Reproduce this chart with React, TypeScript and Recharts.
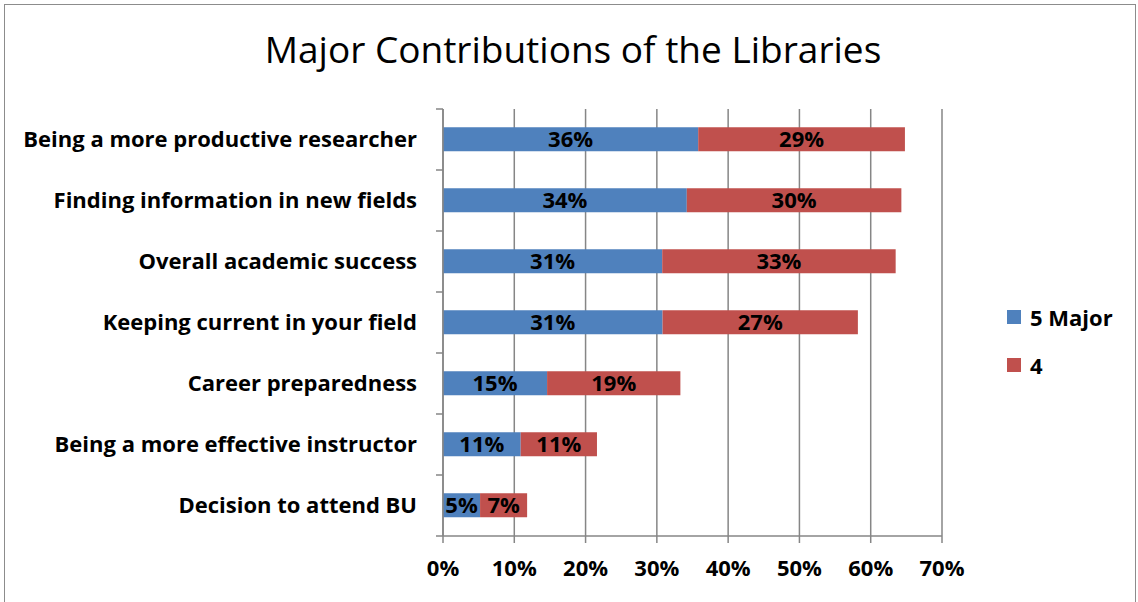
import { BarChart, Bar, XAxis, YAxis, CartesianGrid, LabelList } from 'recharts';

const categories = [
  'Being a more productive researcher',
  'Finding information in new fields',
  'Overall academic success',
  'Keeping current in your field',
  'Career preparedness',
  'Being a more effective instructor',
  'Decision to attend BU',
];
const majorValues = [35.8, 34.2, 30.75, 30.8, 14.6, 10.9, 5.2];
const fourValues = [29.0, 30.1, 32.75, 27.4, 18.7, 10.7, 6.6];
const seriesNames = ['5 Major', '4'];
const seriesColors = ['#4F81BD', '#C0504D'];
const xTicks = [0, 10, 20, 30, 40, 50, 60, 70];

const FONT = '"Open Sans", Calibri, sans-serif';
const GRID = '#868686';
const LABEL_SIZE = 22;

const data = categories.map((name, i) => ({
  name,
  major: majorValues[i],
  four: fourValues[i],
}));

// category label plus a tick mark on the band boundary (Excel style)
function CategoryTick(props: any) {
  const { x, y, payload, index } = props;
  const half = payload?.offset || 30.5;
  const ax = x + 19;
  return (
    <g>
      <text
        x={x}
        y={y - 2}
        textAnchor="end"
        dominantBaseline="central"
        fontFamily={FONT}
        fontWeight={700}
        fontSize={LABEL_SIZE}
        fill="#000"
      >
        {payload.value}
      </text>
      <line x1={ax} x2={ax + 7} y1={y - half} y2={y - half} stroke={GRID} strokeWidth={1.5} />
      {index === categories.length - 1 && (
        <line x1={ax} x2={ax + 7} y1={y + half} y2={y + half} stroke={GRID} strokeWidth={1.5} />
      )}
    </g>
  );
}

const pct = (v: any) => `${Math.round(Number(v))}%`;
const labelStyle = { fontFamily: FONT, fontWeight: 700, fontSize: LABEL_SIZE, fill: '#000' };

export default function App() {
  return (
    <div style={{ position: 'absolute', left: 0, top: 0, width: 1138, height: 602, background: '#fff', overflow: 'hidden' }}>
      <div
        style={{
          position: 'absolute',
          left: 4,
          top: 4,
          width: 1130,
          height: 610,
          border: '1.5px solid #8c8c8c',
        }}
      />
      <div
        style={{
          position: 'absolute',
          left: 0,
          top: 27,
          width: 1146,
          textAlign: 'center',
          fontFamily: FONT,
          fontSize: 37,
          color: '#000',
          lineHeight: '44px',
          whiteSpace: 'nowrap',
        }}
      >
        Major Contributions of the Libraries
      </div>

      <div style={{ position: 'absolute', left: 0, top: 0 }}>
        <BarChart
          width={1138}
          height={602}
          data={data}
          layout="vertical"
          margin={{ top: 109, right: 196, bottom: 0, left: 0 }}
          barCategoryGap="30%"
        >
          <CartesianGrid horizontal={false} vertical stroke={GRID} strokeWidth={1.5} />
          <XAxis
            type="number"
            domain={[0, 70]}
            ticks={xTicks}
            interval={0}
            tickFormatter={(v) => `${v}%`}
            height={66}
            tickSize={7}
            tickMargin={17}
            axisLine={{ stroke: GRID, strokeWidth: 1.5 }}
            tickLine={{ stroke: GRID, strokeWidth: 1.5 }}
            tick={labelStyle}
          />
          <YAxis
            type="category"
            dataKey="name"
            width={443}
            tickSize={7}
            tickMargin={19}
            tickLine={false}
            axisLine={{ stroke: GRID, strokeWidth: 1.5 }}
            tick={<CategoryTick />}
            interval={0}
          />
          <Bar dataKey="major" name={seriesNames[0]} stackId="a" fill={seriesColors[0]} isAnimationActive={false}>
            <LabelList dataKey="major" position="center" formatter={pct} style={labelStyle} />
          </Bar>
          <Bar dataKey="four" name={seriesNames[1]} stackId="a" fill={seriesColors[1]} isAnimationActive={false}>
            <LabelList dataKey="four" position="center" formatter={pct} style={labelStyle} />
          </Bar>
        </BarChart>
      </div>

      <div style={{ position: 'absolute', left: 1007, top: 302, fontFamily: FONT, fontWeight: 700, fontSize: LABEL_SIZE }}>
        {seriesNames.map((n, i) => (
          <div key={n} style={{ display: 'flex', alignItems: 'center', height: 30, marginBottom: 18 }}>
            <span style={{ display: 'inline-block', width: 14, height: 14, background: seriesColors[i], marginRight: 9 }} />
            <span>{n}</span>
          </div>
        ))}
      </div>
    </div>
  );
}
